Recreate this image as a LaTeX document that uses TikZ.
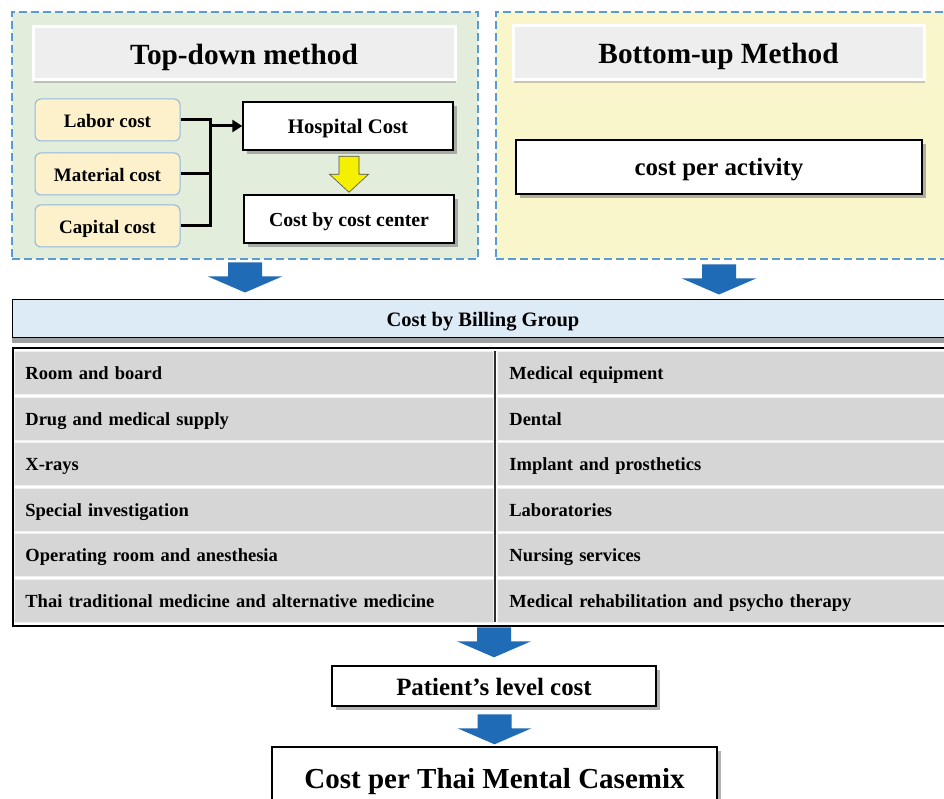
\documentclass[tikz,border=0pt]{standalone}
\usepackage{fontspec}
\setmainfont{Liberation Serif}
\usetikzlibrary{calc}
\usetikzlibrary{arrows.meta}
\usetikzlibrary{shadows}
\usepackage{xcolor}

\definecolor{dashblue}{HTML}{5B9BD5}
\definecolor{tdgreen}{HTML}{E3EDDB}
\definecolor{buyellow}{HTML}{FAF6CC}
\definecolor{titlegray}{HTML}{EEEEEE}
\definecolor{inputfill}{HTML}{FDF1CC}
\definecolor{inputborder}{HTML}{8FB8E0}
\definecolor{billblue}{HTML}{DDEBF7}
\definecolor{cellgray}{HTML}{D6D6D6}
\definecolor{arrowblue}{HTML}{1F6BB5}
\definecolor{arrowyellow}{HTML}{F5EF00}

\tikzset{
  every node/.style={text depth=0pt},
  methodarea/.style={draw=dashblue, line width=2.8pt, dash pattern=on 8pt off 4pt},
  titlebar/.style={draw=white, line width=3pt, fill=titlegray,
    drop shadow={shadow xshift=1pt, shadow yshift=-3pt, opacity=.4},
    font=\bfseries\fontsize{29.3}{32}\selectfont, text height=21.4pt},
  inputbox/.style={draw=inputborder, line width=1pt, fill=inputfill, rounded corners=6pt,
    minimum width=145pt, minimum height=42pt,
    font=\bfseries\fontsize{19}{22}\selectfont, text height=14.2pt},
  costbox/.style={draw=black, line width=1.4pt, fill=white,
    drop shadow={shadow xshift=4pt, shadow yshift=-4pt, opacity=.6}},
  billbar/.style={draw=black, line width=1pt, fill=billblue,
    drop shadow={shadow xshift=0pt, shadow yshift=-6pt, opacity=.75},
    font=\bfseries\fontsize{20.5}{23}\selectfont, text height=15pt},
  cellbox/.style={fill=cellgray, draw=gray!12, line width=.8pt,
    minimum height=43pt, inner xsep=11pt, align=left,
    font=\bfseries\fontsize{18.5}{21}\selectfont, text height=13.5pt},
  conn/.style={line width=3pt, black, line join=miter},
  bluedown/.pic={\fill[arrowblue] (0,0) -- (-37,-16) -- (-17,-16) -- (-17,-30)
    -- (17,-30) -- (17,-16) -- (37,-16) -- cycle;},
  yellowdown/.pic={\filldraw[fill=arrowyellow, draw=black!70, line width=.6pt]
    (0,0) -- (-19.5,-18) -- (-10,-18) -- (-10,-36) -- (10,-36) -- (10,-18)
    -- (19.5,-18) -- cycle;}
}

\begin{document}
\begin{tikzpicture}[x=1pt,y=-1pt]
  \path[use as bounding box, fill=white] (0,0) rectangle (944,799);

  % Method areas
  \node[methodarea, fill=tdgreen, minimum width=466pt, minimum height=247pt] (tdbox) at (245,135.5) {};
  \node[methodarea, fill=buyellow, minimum width=454pt, minimum height=247pt] (bubox) at (723,135.5) {};

  \node[titlebar, minimum width=422pt, minimum height=53pt] (tdtitle) at (244,53.5) {Top-down method};
  \node[titlebar, minimum width=411pt, minimum height=54pt] (butitle) at (718.5,53) {Bottom-up Method};

  % Top-down
  \node[inputbox] (labor) at (107.5,120) {Labor cost};
  \node[inputbox] (material) at (107.5,174) {Material cost};
  \node[inputbox] (capital) at (107.5,226) {Capital cost};

  \node[costbox, minimum width=210pt, minimum height=48pt, font=\bfseries\fontsize{20.7}{23}\selectfont, text height=15pt] (hosp) at (348,126) {Hospital Cost};
  \node[costbox, minimum width=210pt, minimum height=48pt, font=\bfseries\fontsize{19.8}{22}\selectfont, text height=14.8pt] (center) at (349,219) {Cost by cost center};

  \coordinate (trunk) at (210,0);
  \draw[conn] (labor.east) -- (labor.east -| trunk) -- (capital.east -| trunk) -- (capital.east);
  \draw[conn] (material.east) -- (material.east -| trunk);
  \draw[conn,-{Triangle[length=10pt,width=12pt]}] (hosp.west -| trunk) -- (hosp.west);
  \path ($(center.north)+(0,-2)$) pic {yellowdown};

  % Bottom-up
  \node[costbox, minimum width=406pt, minimum height=54pt, font=\bfseries\fontsize{24.9}{28}\selectfont, text height=18pt] (activity) at (719,167) {cost per activity};

  % Billing group
  \node[billbar, minimum width=942pt, minimum height=37pt] (billing) at (483,318.5) {Cost by Billing Group};
  \path (tdbox.south |- billing.north) ++(0,-7) pic {bluedown};
  \path (activity.south |- billing.north) ++(0,-5) pic {bluedown};

  \node[draw=black, line width=1.5pt, minimum width=963pt, minimum height=278pt, anchor=north west] (grid) at (12,347) {};
  \foreach \lt/\rt [count=\i from 0] in {Room and board/Medical equipment,
      Drug and medical supply/Dental,
      X-rays/Implant and prosthetics,
      Special investigation/Laboratories,
      Operating room and anesthesia/Nursing services,
      Thai traditional medicine and alternative medicine/Medical rehabilitation and psycho therapy}
  {
    \node[cellbox, anchor=north west, text width=457pt] (L\i) at (14,{351+\i*45.5}) {\lt};
    \node[cellbox, anchor=north west, text width=457pt, inner xsep=12pt] (R\i) at (497,{351+\i*45.5}) {\rt};
  }
  \draw[line width=2pt, gray!35!black] ($(L0.north east)+(1.5,0)$) -- ($(L5.south east)+(1.5,0)$);

  % Results
  \node[costbox, minimum width=324pt, minimum height=40pt, font=\bfseries\fontsize{24.9}{28}\selectfont, text height=18pt] (patient) at (494,686) {Patient’s level cost};
  \node[costbox, minimum width=445pt, minimum height=62pt, font=\bfseries\fontsize{29}{32}\selectfont, text height=21pt] (casemix) at (494.5,778) {Cost per Thai Mental Casemix};
  \path ($(patient.north)+(0,-8)$) pic {bluedown};
  \path ($(casemix.north)+(0,-2)$) pic {bluedown};
\end{tikzpicture}
\end{document}
